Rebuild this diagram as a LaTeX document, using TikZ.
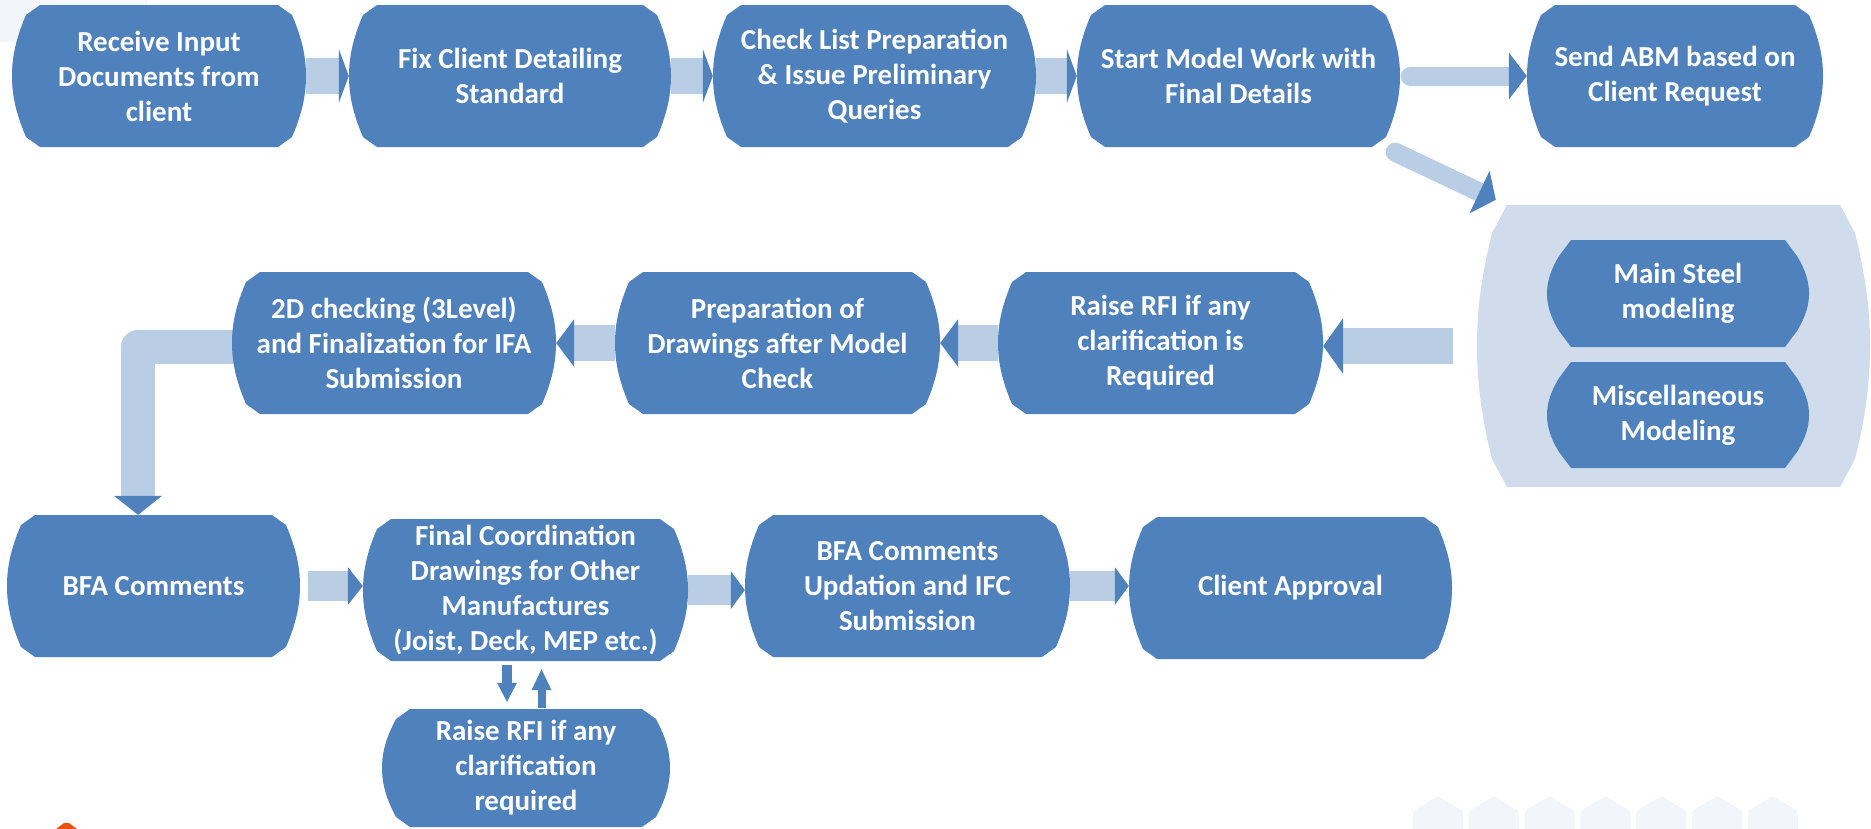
\documentclass[tikz,border=0pt]{standalone}
\usepackage{fontspec}
\setmainfont{Carlito}
\usetikzlibrary{calc}
\definecolor{boxblue}{HTML}{4F81BD}
\definecolor{arrlight}{HTML}{B9CDE5}
\definecolor{biglight}{HTML}{D0DCEB}
\definecolor{faint}{HTML}{F2F5F9}
\definecolor{logoorange}{HTML}{E8540F}
\pgfdeclarelayer{deco}
\pgfdeclarelayer{conn}
\pgfdeclarelayer{shapes}
\pgfsetlayers{deco,conn,shapes,main}

% #1 node name, #2 half width, #3 half height, #4 chamfer x, #5 chamfer y, #6 fill colour
\newcommand\boxshape[6]{%
  \pgfmathsetmacro\bw{#2}\pgfmathsetmacro\bh{#3}%
  \pgfmathsetmacro\ca{\bw-#4}\pgfmathsetmacro\cb{\bw-#4/2}%
  \pgfmathsetmacro\cc{\bh-#5}\pgfmathsetmacro\cd{\bw-#4/8}%
  \pgfmathsetmacro\ce{\cc*0.6}\pgfmathsetmacro\cf{\cc*0.3}%
  \begin{pgfonlayer}{shapes}
  \fill[#6,shift={(#1.center)}] (-\ca,-\bh) -- (\ca,-\bh) -- (\cb,-\cc)
    .. controls (\cd,-\ce) and (\bw,-\cf) .. (\bw,0)
    .. controls (\bw,\cf) and (\cd,\ce) .. (\cb,\cc) -- (\ca,\bh) -- (-\ca,\bh) -- (-\cb,\cc)
    .. controls (-\cd,\ce) and (-\bw,\cf) .. (-\bw,0)
    .. controls (-\bw,-\cf) and (-\cd,-\ce) .. (-\cb,-\cc) -- cycle;
  \end{pgfonlayer}}
% #1 name, #2 cx, #3 cy, #4 half width, #5 half height, #6 text
\newcommand\flowbox[6]{%
  \node[lbl, minimum width={2*#4}, minimum height={2*#5}] (#1) at (#2,#3) {#6};
  \boxshape{#1}{#4}{#5}{28}{10}{boxblue}}
% right arrow: from, to, body width, head length, head half width, start shift
\newcommand\rarrow[6]{%
  \begin{pgfonlayer}{conn}
  \draw[arrbody=#3] ([xshift=#6]#1.east) -- ($(#1.east -| #2.west)+(-#4,0)$);
  \fill[boxblue] (#1.east -| #2.west) -- ++(-#4,-#5) -- ++(0,2*#5) -- cycle;
  \end{pgfonlayer}}
\newcommand\larrow[6]{%
  \begin{pgfonlayer}{conn}
  \draw[arrbody=#3] ([xshift=-#6]#1.west) -- ($(#1.west -| #2.east)+(#4,0)$);
  \fill[boxblue] (#1.west -| #2.east) -- ++(#4,-#5) -- ++(0,2*#5) -- cycle;
  \end{pgfonlayer}}

\tikzset{
  lbl/.style={text=white, font=\bfseries\fontsize{29}{35}\selectfont, align=center, inner sep=0pt},
  arrbody/.style={draw=arrlight, line width=#1},
}

\begin{document}
\begin{tikzpicture}[x=1pt,y=-1pt]
\useasboundingbox (0,0) rectangle (1871,828);

% faint background decorations
\begin{pgfonlayer}{deco}
\fill[faint, rounded corners=12pt] (-20,-20) rectangle (50,42);
\fill[faint!70!white, rounded corners=10pt] (40,-20) rectangle (147,30);
\foreach \i in {0,...,6}{
  \fill[faint, rounded corners=3pt] ({1413+55.8*\i},840) -- ({1413+55.8*\i},811) -- ({1438+55.8*\i},796) -- ({1463+55.8*\i},811) -- ({1463+55.8*\i},840) -- cycle;
}
\fill[logoorange] (56,829) -- (64,823) -- (69,823) -- (77,829) -- cycle;
\end{pgfonlayer}

% top row
\flowbox{b1}{159}{76}{147}{71}{Receive Input\\Documents from\\client}
\flowbox{b2}{510}{76}{161}{71}{Fix Client Detailing\\Standard}
\flowbox{b3}{874.5}{76}{161.5}{71}{Check List Preparation\\\& Issue Preliminary\\Queries}
\flowbox{b4}{1238.5}{76}{161.5}{71}{Start Model Work with\\Final Details}
\flowbox{b5}{1675}{76}{148}{71}{Send ABM based on\\Client Request}

% modelling group
\node[minimum width=393, minimum height=282, inner sep=0pt] (big) at (1673.5,346) {};
\boxshape{big}{196.5}{141}{30}{28}{biglight}
\node[lbl, minimum width=262, minimum height=107] (i1) at (1678,293.5) {Main Steel\\modeling};
\boxshape{i1}{131}{53.5}{24}{16}{boxblue}
\node[lbl, minimum width=262, minimum height=106] (i2) at (1678,415) {Miscellaneous\\Modeling};
\boxshape{i2}{131}{53}{24}{16}{boxblue}

% middle row
\flowbox{m1}{394}{343}{162}{71}{2D checking (3Level)\\and Finalization for IFA\\Submission}
\flowbox{m2}{777.5}{343}{162.5}{71}{Preparation of\\Drawings after Model\\Check}
\flowbox{m3}{1160.5}{343}{162.5}{71}{Raise RFI if any\\clarification is\\Required}

% bottom row
\flowbox{c1}{153.5}{586}{146.5}{71}{BFA Comments}
\flowbox{c2}{525.5}{590}{162.5}{71}{Final Coordination\\Drawings for Other\\Manufactures\\(Joist, Deck, MEP etc.)}
\flowbox{c3}{907.5}{586}{162.5}{71}{BFA Comments\\Updation and IFC\\Submission}
\flowbox{c4}{1290.5}{588}{161.5}{71}{Client Approval}
\flowbox{r}{526}{768}{144}{59}{Raise RFI if any\\clarification\\required}

% top row connectors
\rarrow{b1}{b2}{36}{10}{27}{0}
\rarrow{b2}{b3}{36}{10}{27}{0}
\rarrow{b3}{b4}{36}{10}{27}{0}
\begin{pgfonlayer}{conn}
\draw[arrbody=19, line cap=round] ([xshift=10]b4.east) -- ($(b4.east -| b5.west)+(-18,0)$);
\fill[boxblue] (b4.east -| b5.west) -- ++(-18,-23.5) -- ++(0,47) -- cycle;
% diagonal to modelling group
\coordinate (dstart) at ([shift={(-5,5)}]b4.south east);
\coordinate (dtip) at ([shift={(19,-5)}]big.north west);
\coordinate (dbase) at ($(dtip)!18pt!(dstart)$);
\draw[arrbody=19, line cap=round] (dstart) -- (dbase);
\fill[boxblue] (dtip) -- ($(dbase)!23.5pt!90:(dtip)$) -- ($(dbase)!23.5pt!-90:(dtip)$) -- cycle;
\end{pgfonlayer}

% middle row connectors
\larrow{big}{m3}{36}{20}{28}{24}
\larrow{m3}{m2}{36}{18}{24}{0}
\larrow{m2}{m1}{36}{18}{24}{0}
\begin{pgfonlayer}{conn}
\coordinate (etip) at ([xshift=-15.5]c1.north);
\coordinate (ebase) at ([shift={(-15.5,-19)}]c1.north);
\draw[arrbody=34, line join=round] ([shift={(4,4)}]m1.west) -| (ebase);
\fill[boxblue] (etip) -- ++(-24,-19) -- ++(48,0) -- cycle;
\end{pgfonlayer}

% bottom row connectors
\rarrow{c1}{c2}{30}{15}{19}{8}
\rarrow{c2}{c3}{30}{14}{19}{0}
\rarrow{c3}{c4}{30}{14}{19}{0}
\begin{pgfonlayer}{conn}
\coordinate (dnA) at ([shift={(-18.5,4)}]c2.south);
\coordinate (dnB) at ([shift={(-18.5,22)}]c2.south);
\coordinate (dnT) at ([shift={(-19,-7)}]r.north);
\draw[draw=boxblue, line width=10] (dnA) -- (dnB);
\fill[boxblue] (dnT) -- ++(-10,-19) -- ++(20,0) -- cycle;
\coordinate (upA) at ([shift={(15.5,-1)}]r.north);
\coordinate (upB) at ([shift={(15.5,-19)}]r.north);
\coordinate (upT) at ([shift={(16,8)}]c2.south);
\draw[draw=boxblue, line width=8] (upA) -- (upB);
\fill[boxblue] (upT) -- ++(-10,21) -- ++(20,0) -- cycle;
\end{pgfonlayer}
\end{tikzpicture}
\end{document}
